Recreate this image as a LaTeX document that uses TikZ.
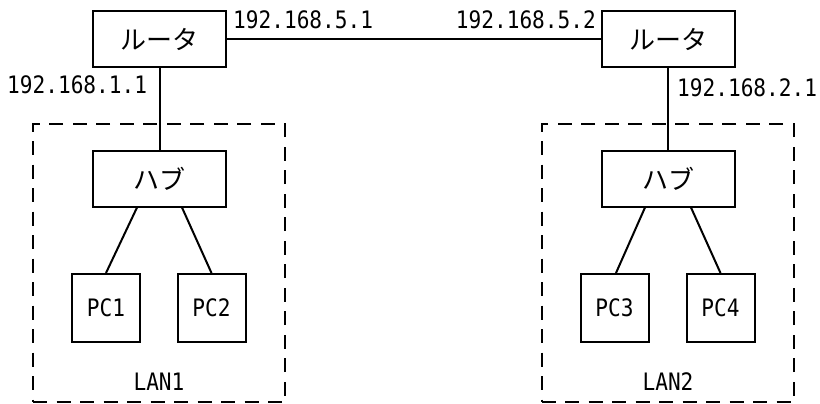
\documentclass[tikz,border=0pt]{standalone}
\usepackage{fontspec}
\newfontfamily\jpfont{Noto Sans CJK JP}
\newfontfamily\monofont[FakeStretch=0.88]{DejaVu Sans Mono}
\begin{document}
\begin{tikzpicture}[x=1pt,y=-1pt,
  box/.style={draw,line width=2pt,inner sep=0pt},
  devbox/.style={box,minimum width=133pt,minimum height=56pt,font=\jpfont\fontsize{26}{26}\selectfont},
  pcbox/.style={box,minimum width=68pt,minimum height=68pt,font=\monofont\fontsize{24}{24}\selectfont},
  lanbox/.style={draw,line width=2pt,dash pattern=on 14pt off 9.5pt,minimum width=252pt,minimum height=278pt,inner sep=0pt},
  link/.style={line width=2pt},
  ip/.style={font=\monofont\fontsize{24}{24}\selectfont,inner sep=0pt},
  lantext/.style={font=\monofont\fontsize{24}{24}\selectfont,inner sep=0pt}]
\useasboundingbox (0,0) rectangle (820,404);
% LAN frames
\node[lanbox] (lan1) at (159,263) {};
\node[lanbox] (lan2) at (667.5,263) {};
% routers
\node[devbox] (r1) at (159.5,39) {ルータ};
\node[devbox] (r2) at (668,39) {ルータ};
% hubs
\node[devbox] (h1) at (159.5,178.5) {ハブ};
\node[devbox] (h2) at (668,178.5) {ハブ};
% PCs
\node[pcbox] (p1) at (106,308) {PC1};
\node[pcbox] (p2) at (211.5,308) {PC2};
\node[pcbox] (p3) at (614.5,308) {PC3};
\node[pcbox] (p4) at (720.5,308) {PC4};
% links
\draw[link] (r1.east) -- (r2.west);
\draw[link] (r1.south) -- (h1.north);
\draw[link] (r2.south) -- (h2.north);
\draw[link] ([xshift=-22.5pt]h1.south) -- (p1.north);
\draw[link] ([xshift=22.5pt]h1.south) -- (p2.north);
\draw[link] ([xshift=-23pt]h2.south) -- ([xshift=1.5pt]p3.north);
\draw[link] ([xshift=23pt]h2.south) -- (p4.north);
% labels
\node[ip,anchor=base west] (ip51) at (233,29) {192.168.5.1};
\node[ip,anchor=base east] (ip52) at (596,29) {192.168.5.2};
\node[ip,anchor=base west] (ip11) at (7,94) {192.168.1.1};
\node[ip,anchor=base west] (ip21) at (677,97) {192.168.2.1};
\node[lantext,anchor=base] (t1) at (159,390) {LAN1};
\node[lantext,anchor=base] (t2) at (668,390) {LAN2};
\end{tikzpicture}
\end{document}
